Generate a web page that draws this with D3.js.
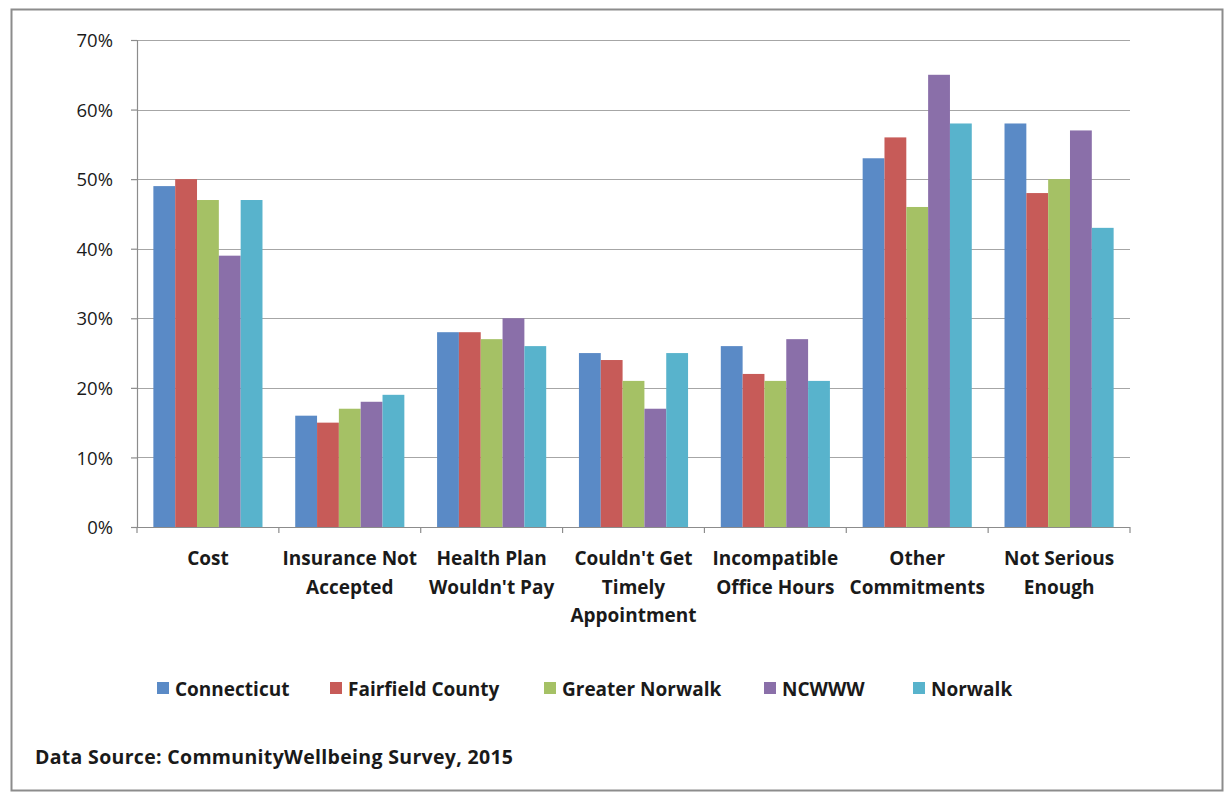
<!DOCTYPE html>
<html>
<head>
<meta charset="utf-8">
<script src="https://cdn.jsdelivr.net/npm/d3@7"></script>
<style>
  html, body { margin: 0; padding: 0; background: #ffffff; }
  svg { display: block; font-family: "Open Sans", sans-serif; }
</style>
</head>
<body>
<svg id="chart" width="1225" height="793"></svg>
<script>
// Reasons for not getting care, by area (share of respondents)
const categories = [
  ["Cost"],
  ["Insurance Not", "Accepted"],
  ["Health Plan", "Wouldn't Pay"],
  ["Couldn't Get", "Timely", "Appointment"],
  ["Incompatible", "Office Hours"],
  ["Other", "Commitments"],
  ["Not Serious", "Enough"]
];
const seriesNames = ["Connecticut", "Fairfield County", "Greater Norwalk", "NCWWW", "Norwalk"];
const connecticut     = [0.49, 0.16, 0.28, 0.25, 0.26, 0.53, 0.58];
const fairfieldCounty = [0.50, 0.15, 0.28, 0.24, 0.22, 0.56, 0.48];
const greaterNorwalk  = [0.47, 0.17, 0.27, 0.21, 0.21, 0.46, 0.50];
const ncwww           = [0.39, 0.18, 0.30, 0.17, 0.27, 0.65, 0.57];
const norwalk         = [0.47, 0.19, 0.26, 0.25, 0.21, 0.58, 0.43];
const yTicks = [0, 0.1, 0.2, 0.3, 0.4, 0.5, 0.6, 0.7];
const sourceNote = "Data Source: CommunityWellbeing Survey, 2015";

const seriesValues = [connecticut, fairfieldCounty, greaterNorwalk, ncwww, norwalk];
const colors = ["#5a8ac6", "#c75b58", "#a5c165", "#8a6fa9", "#58b3cc"];

const svg = d3.select("#chart");

// outer frame
svg.append("rect")
  .attr("x", 11.5).attr("y", 9.5)
  .attr("width", 1211).attr("height", 781)
  .attr("fill", "none").attr("stroke", "#8c8c8c").attr("stroke-width", 2);

const plot = { left: 137, right: 1130, top: 40, bottom: 527 };

const x0 = d3.scaleBand()
  .domain(d3.range(categories.length))
  .range([plot.left, plot.right])
  .paddingInner(0).paddingOuter(0);

const x1 = d3.scaleBand()
  .domain(d3.range(seriesNames.length))
  .range([0, x0.bandwidth()])
  .paddingOuter(0.75).paddingInner(0);

const y = d3.scaleLinear().domain([0, 0.7]).range([plot.bottom, plot.top]);

// gridlines
svg.append("g")
  .selectAll("line")
  .data(yTicks.slice(1))
  .join("line")
  .attr("x1", plot.left).attr("x2", plot.right)
  .attr("y1", d => Math.round(y(d)) + 0.5).attr("y2", d => Math.round(y(d)) + 0.5)
  .attr("stroke", "#a6a6a6").attr("stroke-width", 1.2);

// y axis
const yAxis = svg.append("g")
  .attr("transform", `translate(${plot.left},0)`)
  .call(d3.axisLeft(y).tickValues(yTicks).tickFormat(d3.format(".0%")).tickSize(6).tickPadding(18));
yAxis.select(".domain").attr("stroke", "#8c8c8c").attr("stroke-width", 1.2);
yAxis.selectAll(".tick line").attr("stroke", "#8c8c8c").attr("stroke-width", 1.2);
yAxis.selectAll(".tick text")
  .attr("font-size", 18.5).attr("fill", "#1a1a1a")
  .attr("font-family", "'Open Sans', sans-serif")
  .attr("dy", "0.36em");

// bars
const groups = svg.append("g")
  .selectAll("g")
  .data(categories.map((c, i) => i))
  .join("g")
  .attr("transform", i => `translate(${x0(i)},0)`);

groups.selectAll("rect")
  .data(i => seriesValues.map((vals, s) => ({ s, v: vals[i] })))
  .join("rect")
  .attr("x", d => x1(d.s))
  .attr("width", x1.bandwidth())
  .attr("y", d => y(d.v))
  .attr("height", d => y(0) - y(d.v))
  .attr("fill", d => colors[d.s]);

// x axis
const xAxis = svg.append("g")
  .attr("transform", `translate(0,${plot.bottom})`);
xAxis.append("line")
  .attr("x1", plot.left - 6).attr("x2", plot.right)
  .attr("y1", 0.5).attr("y2", 0.5)
  .attr("stroke", "#8c8c8c").attr("stroke-width", 1.2);
xAxis.selectAll("line.tick")
  .data(d3.range(categories.length + 1))
  .join("line")
  .attr("class", "tick")
  .attr("x1", i => i < categories.length ? x0(i) : plot.right)
  .attr("x2", i => i < categories.length ? x0(i) : plot.right)
  .attr("y1", 0).attr("y2", 6)
  .attr("stroke", "#8c8c8c").attr("stroke-width", 1.2);

const labels = xAxis.selectAll("text")
  .data(categories)
  .join("text")
  .attr("text-anchor", "middle")
  .attr("font-size", 19).attr("font-weight", "bold").attr("fill", "#1a1a1a");
labels.each(function (lines, i) {
  d3.select(this).selectAll("tspan")
    .data(lines)
    .join("tspan")
    .attr("x", x0(i) + x0.bandwidth() / 2)
    .attr("y", (d, k) => 38 + k * 28.5)
    .text(d => d);
});

// legend
const legendX = [157, 330, 544, 764, 913];
const legend = svg.append("g").attr("transform", "translate(0,688)");
const items = legend.selectAll("g")
  .data(seriesNames)
  .join("g")
  .attr("transform", (d, i) => `translate(${legendX[i]},0)`);
items.append("rect")
  .attr("x", 0).attr("y", -6).attr("width", 12).attr("height", 12)
  .attr("fill", (d, i) => colors[i]);
items.append("text")
  .attr("x", 18).attr("y", 7.5)
  .attr("font-size", 19).attr("font-weight", "bold").attr("fill", "#1a1a1a")
  .text(d => d);

// source note
svg.append("text")
  .attr("x", 35).attr("y", 764)
  .attr("font-size", 19.5).attr("font-weight", "bold").attr("fill", "#1a1a1a")
  .attr("textLength", 478).attr("lengthAdjust", "spacing")
  .text(sourceNote);
</script>
</body>
</html>
